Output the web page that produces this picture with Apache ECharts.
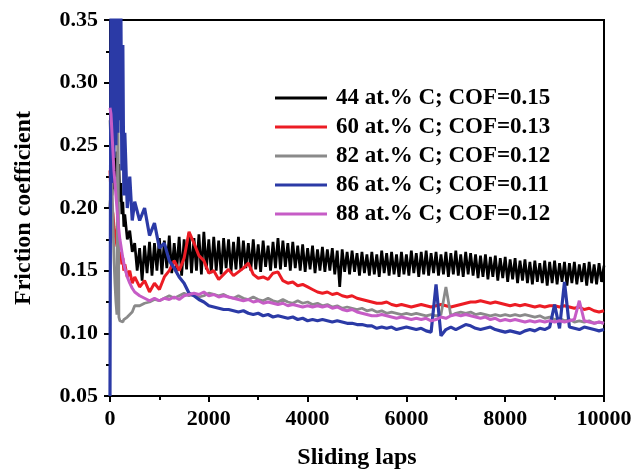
<!DOCTYPE html>
<html>
<head>
<meta charset="utf-8">
<script src="https://cdn.jsdelivr.net/npm/echarts@6/dist/echarts.min.js"></script>
<style>
html,body{margin:0;padding:0;background:#fff;}
#chart{width:638px;height:475px;}
</style>
</head>
<body>
<div id="chart"></div>
<script>
// shared sampling for the coloured curves
var laps = [0,20,40,60,80,100,120,140,160,180,200,220,240,260,280,300,
  350,400,450,500,
  600,700,800,900,1000,1100,1200,1300,1400,1500,
  1600,1700,1800,1900,2000,2100,2200,2300,2400,2500,
  2600,2700,2800,2900,3000,3100,3200,3300,3400,3500,
  3600,3700,3800,3900,4000,4100,4200,4300,4400,4500,
  4600,4700,4800,4900,5000,5100,5200,5300,5400,5500,
  5600,5700,5800,5900,6000,6100,6200,6300,6400,6500,
  6600,6700,6800,6900,7000,7100,7200,7300,7400,7500,
  7600,7700,7800,7900,8000,8100,8200,8300,8400,8500,
  8600,8700,8800,8900,9000,9100,9200,9300,9400,9500,
  9600,9700,9800,9900,10000];

// finer sampling for the very noisy 44 at.% C curve
var lapsBlack = [0,20,40,60,80,100,120,140,160,180,200,220,240,260,280,300,
  350,400,450,500,550,600,650,700,750,800,
  850,900,950,1000,1050,1100,1150,1200,1250,1300,
  1350,1400,1450,1500,1550,1600,1650,1700,1750,1800,
  1850,1900,1950,2000,2050,2100,2150,2200,2250,2300,
  2350,2400,2450,2500,2550,2600,2650,2700,2750,2800,
  2850,2900,2950,3000,3050,3100,3150,3200,3250,3300,
  3350,3400,3450,3500,3550,3600,3650,3700,3750,3800,
  3850,3900,3950,4000,4050,4100,4150,4200,4250,4300,
  4350,4400,4450,4500,4550,4600,4650,4700,4750,4800,
  4850,4900,4950,5000,5050,5100,5150,5200,5250,5300,
  5350,5400,5450,5500,5550,5600,5650,5700,5750,5800,
  5850,5900,5950,6000,6050,6100,6150,6200,6250,6300,
  6350,6400,6450,6500,6550,6600,6650,6700,6750,6800,
  6850,6900,6950,7000,7050,7100,7150,7200,7250,7300,
  7350,7400,7450,7500,7550,7600,7650,7700,7750,7800,
  7850,7900,7950,8000,8050,8100,8150,8200,8250,8300,
  8350,8400,8450,8500,8550,8600,8650,8700,8750,8800,
  8850,8900,8950,9000,9050,9100,9150,9200,9250,9300,
  9350,9400,9450,9500,9550,9600,9650,9700,9750,9800,
  9850,9900,9950,10000];

var seriesNames = ['44 at.% C; COF=0.15','60 at.% C; COF=0.13','82 at.% C; COF=0.12','86 at.% C; COF=0.11','88 at.% C; COF=0.12'];

var c44 = [0.200,0.220,0.210,0.230,0.215,0.240,0.225,0.245,0.220,0.235,0.205,0.220,0.195,0.205,0.185,0.195,
  0.175,0.182,0.165,0.172,0.150,0.168,0.142,0.170,0.148,0.173,
  0.146,0.172,0.150,0.176,0.147,0.174,0.152,0.178,0.148,0.172,
  0.150,0.177,0.146,0.175,0.151,0.180,0.148,0.176,0.150,0.179,
  0.147,0.181,0.151,0.175,0.148,0.177,0.150,0.174,0.147,0.176,
  0.152,0.175,0.149,0.173,0.151,0.177,0.150,0.174,0.152,0.172,
  0.150,0.175,0.151,0.171,0.149,0.174,0.153,0.170,0.150,0.173,
  0.152,0.176,0.151,0.174,0.153,0.172,0.150,0.173,0.152,0.170,
  0.150,0.171,0.149,0.168,0.151,0.170,0.148,0.167,0.150,0.169,
  0.149,0.167,0.150,0.168,0.147,0.166,0.137,0.167,0.149,0.165,
  0.147,0.166,0.149,0.164,0.146,0.165,0.148,0.163,0.146,0.165,
  0.147,0.163,0.145,0.166,0.148,0.164,0.146,0.165,0.147,0.163,
  0.145,0.165,0.147,0.163,0.146,0.166,0.148,0.164,0.145,0.165,
  0.147,0.166,0.146,0.164,0.148,0.165,0.146,0.163,0.147,0.165,
  0.145,0.164,0.147,0.166,0.146,0.163,0.145,0.165,0.147,0.164,
  0.146,0.163,0.144,0.162,0.145,0.163,0.143,0.161,0.145,0.162,
  0.142,0.160,0.144,0.161,0.141,0.159,0.143,0.160,0.140,0.158,
  0.142,0.159,0.140,0.157,0.139,0.158,0.141,0.156,0.140,0.158,
  0.138,0.157,0.140,0.158,0.139,0.156,0.141,0.157,0.138,0.156,
  0.140,0.157,0.139,0.155,0.141,0.156,0.138,0.157,0.140,0.155,
  0.139,0.156,0.141,0.154];

var c60 = [0.230,0.210,0.200,0.195,0.185,0.180,0.175,0.170,0.168,0.165,0.160,0.165,0.155,0.160,0.150,0.155,
  0.145,0.150,0.140,0.145,
  0.137,0.142,0.133,0.140,0.135,0.145,0.150,0.158,0.150,0.160,
  0.181,0.172,0.162,0.158,0.148,0.150,0.143,0.147,0.151,0.146,
  0.149,0.152,0.156,0.147,0.144,0.145,0.143,0.148,0.149,0.142,
  0.140,0.141,0.138,0.139,0.137,0.135,0.133,0.132,0.133,0.131,
  0.132,0.130,0.129,0.130,0.128,0.127,0.126,0.125,0.124,0.124,
  0.125,0.123,0.122,0.123,0.122,0.121,0.122,0.123,0.122,0.121,
  0.122,0.123,0.122,0.121,0.122,0.123,0.124,0.125,0.125,0.126,
  0.125,0.124,0.125,0.124,0.123,0.122,0.123,0.122,0.123,0.122,
  0.121,0.122,0.121,0.122,0.122,0.121,0.122,0.121,0.120,0.121,
  0.119,0.120,0.118,0.117,0.118];

var c82 = [0.270,0.250,0.220,0.190,0.160,0.140,0.125,0.115,0.300,0.113,0.110,0.109,0.110,0.109,0.111,0.112,
  0.113,0.115,0.117,0.122,
  0.122,0.124,0.125,0.127,0.126,0.128,0.130,0.128,0.130,0.132,
  0.130,0.131,0.129,0.130,0.132,0.131,0.130,0.131,0.129,0.128,
  0.130,0.128,0.127,0.129,0.127,0.126,0.128,0.126,0.125,0.127,
  0.125,0.124,0.126,0.124,0.125,0.123,0.124,0.122,0.123,0.121,
  0.122,0.120,0.121,0.120,0.119,0.120,0.118,0.119,0.117,0.118,
  0.116,0.117,0.116,0.115,0.116,0.115,0.116,0.115,0.114,0.115,
  0.114,0.115,0.137,0.114,0.116,0.117,0.116,0.117,0.115,0.116,
  0.115,0.114,0.115,0.114,0.115,0.114,0.115,0.114,0.115,0.114,
  0.113,0.114,0.112,0.113,0.111,0.112,0.110,0.111,0.109,0.110,
  0.109,0.110,0.108,0.109,0.108];

var c86 = [0.050,0.370,0.220,0.370,0.240,0.370,0.250,0.370,0.260,0.370,0.270,0.360,0.230,0.330,0.210,0.260,
  0.200,0.225,0.190,0.205,
  0.190,0.200,0.178,0.188,0.168,0.172,0.158,0.152,0.145,0.140,
  0.132,0.130,0.127,0.125,0.122,0.121,0.120,0.119,0.119,0.118,
  0.117,0.118,0.116,0.115,0.116,0.114,0.115,0.113,0.114,0.113,
  0.112,0.113,0.111,0.112,0.110,0.111,0.110,0.111,0.110,0.109,
  0.110,0.109,0.108,0.108,0.107,0.107,0.106,0.106,0.104,0.105,
  0.104,0.105,0.103,0.104,0.105,0.104,0.103,0.104,0.102,0.101,
  0.139,0.098,0.103,0.105,0.103,0.105,0.107,0.106,0.104,0.103,
  0.104,0.105,0.103,0.102,0.101,0.102,0.101,0.100,0.102,0.103,
  0.102,0.104,0.103,0.105,0.123,0.104,0.141,0.105,0.104,0.103,
  0.105,0.104,0.103,0.102,0.103];

var c88 = [0.280,0.275,0.260,0.245,0.230,0.220,0.210,0.200,0.190,0.182,0.175,0.170,0.165,0.160,0.156,0.152,
  0.145,0.140,0.136,0.133,
  0.130,0.128,0.126,0.128,0.126,0.128,0.127,0.129,0.127,0.130,
  0.131,0.132,0.131,0.133,0.130,0.131,0.129,0.130,0.129,0.128,
  0.127,0.126,0.127,0.125,0.126,0.124,0.125,0.124,0.123,0.124,
  0.122,0.123,0.122,0.121,0.122,0.121,0.122,0.121,0.122,0.120,
  0.121,0.119,0.118,0.119,0.117,0.116,0.115,0.114,0.114,0.115,
  0.114,0.113,0.112,0.113,0.112,0.111,0.112,0.111,0.112,0.110,
  0.111,0.113,0.112,0.114,0.115,0.114,0.115,0.114,0.113,0.112,
  0.113,0.111,0.112,0.110,0.111,0.110,0.111,0.110,0.109,0.110,
  0.109,0.110,0.109,0.110,0.109,0.110,0.109,0.110,0.111,0.126,
  0.110,0.109,0.108,0.109,0.108];

var seriesValues = [c44, c60, c82, c86, c88];
var seriesLaps = [lapsBlack, laps, laps, laps, laps];
var seriesColors = ['#000000','#ec1c24','#8a8a8a','#2b3aa6','#c65cc6'];
var seriesWidths = [2.7, 3, 2.8, 3.2, 3];

var xTicks = {min:0, max:10000, interval:2000};
var yTicks = {min:0.05, max:0.35, interval:0.05};

var FONT = '"Liberation Serif","Times New Roman",serif';

var chart = echarts.init(document.getElementById('chart'), null, {renderer:'canvas'});

var series = seriesNames.map(function(name, k){
  var xs = seriesLaps[k];
  return {
    name: name,
    type: 'line',
    data: xs.map(function(l, i){ return [l, seriesValues[k][i]]; }),
    showSymbol: false,
    symbol: 'none',
    clip: true,
    lineStyle: {color: seriesColors[k], width: seriesWidths[k]},
    itemStyle: {color: seriesColors[k]},
    emphasis: {disabled: true},
    animation: false
  };
});

chart.setOption({
  backgroundColor: '#ffffff',
  animation: false,
  grid: {left:110, right:34, top:20, bottom:74, show:true, borderColor:'#000', borderWidth:2, backgroundColor:'transparent'},
  legend: {
    orient: 'vertical',
    left: 270,
    top: 81,
    icon: 'rect',
    itemWidth: 52,
    itemHeight: 3,
    itemGap: 5,
    data: seriesNames,
    textStyle: {fontFamily: FONT, fontWeight: 'bold', fontSize: 23, color: '#000', lineHeight: 24, padding:[0,0,0,4]}
  },
  xAxis: {
    type: 'value',
    min: xTicks.min, max: xTicks.max, interval: xTicks.interval,
    name: 'Sliding laps',
    nameLocation: 'middle',
    nameGap: 50,
    nameTextStyle: {fontFamily: FONT, fontWeight: 'bold', fontSize: 24, color: '#000'},
    axisLine: {show: true, lineStyle: {color:'#000', width:2}},
    axisTick: {show: true, inside: false, length: 6, lineStyle: {color:'#000', width:2}},
    minorTick: {show: true, splitNumber: 2, length: 4, lineStyle: {color:'#000', width:2}},
    splitLine: {show: false},
    axisLabel: {fontFamily: FONT, fontWeight: 'bold', fontSize: 22, color: '#000', margin: 12,
      formatter: function(v){ return String(v); }}
  },
  yAxis: {
    type: 'value',
    min: yTicks.min, max: yTicks.max, interval: yTicks.interval,
    name: 'Friction coefficient',
    nameLocation: 'middle',
    nameGap: 74,
    nameTextStyle: {fontFamily: FONT, fontWeight: 'bold', fontSize: 24, color: '#000'},
    axisLine: {show: true, lineStyle: {color:'#000', width:2}},
    axisTick: {show: true, inside: false, length: 6, lineStyle: {color:'#000', width:2}},
    minorTick: {show: true, splitNumber: 2, length: 4, lineStyle: {color:'#000', width:2}},
    splitLine: {show: false},
    axisLabel: {fontFamily: FONT, fontWeight: 'bold', fontSize: 22, color: '#000', margin: 12,
      formatter: function(v){ return v.toFixed(2); }}
  },
  series: series
});
</script>
</body>
</html>
